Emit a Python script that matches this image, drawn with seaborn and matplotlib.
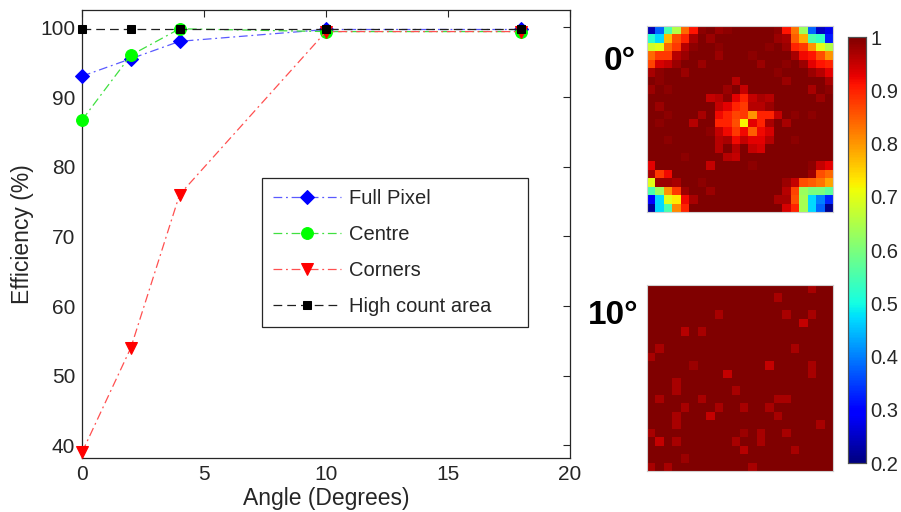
import matplotlib
matplotlib.use("Agg")
import matplotlib.pyplot as plt
import numpy as np
import pandas as pd
import seaborn as sns

# ---------------- data ----------------
angles = [0, 2, 4, 10, 18]
full_pixel = [93.0, 95.5, 98.0, 99.7, 99.7]
centre = [86.7, 96.0, 99.8, 99.4, 99.4]
corners = [39.0, 54.0, 76.0, 99.4, 99.4]
high_count = [99.8, 99.8, 99.8, 99.8, 99.8]
series_names = ["Full Pixel", "Centre", "Corners", "High count area"]

x_ticks = [0, 5, 10, 15, 20]
y_ticks = [40, 50, 60, 70, 80, 90, 100]
cbar_ticks = [0.2, 0.3, 0.4, 0.5, 0.6, 0.7, 0.8, 0.9, 1.0]
cbar_labels = ["0.2", "0.3", "0.4", "0.5", "0.6", "0.7", "0.8", "0.9", "1"]
map_titles = ["0°", "10°"]

eff_0deg = [
    [0.24,0.38,0.55,0.65,0.84,0.91,0.99,1.00,0.98,0.99,1.00,1.00,1.00,1.00,1.00,0.99,0.91,0.83,0.63,0.38,0.25,0.28],
    [0.52,0.47,0.77,0.86,0.90,0.97,1.00,0.98,1.00,1.00,1.00,1.00,1.00,1.00,1.00,0.98,0.97,0.85,0.78,0.55,0.53,0.32],
    [0.68,0.70,0.84,0.88,0.96,0.99,1.00,1.00,0.99,1.00,1.00,1.00,1.00,1.00,0.99,1.00,0.98,0.90,0.88,0.80,0.70,0.65],
    [0.84,0.88,0.88,0.96,0.98,1.00,1.00,1.00,0.98,1.00,1.00,1.00,0.99,1.00,1.00,1.00,1.00,0.97,0.92,0.91,0.86,0.80],
    [0.87,0.94,0.95,0.98,1.00,1.00,0.98,1.00,1.00,1.00,1.00,1.00,1.00,0.98,1.00,1.00,0.99,1.00,0.98,0.93,0.91,0.90],
    [0.97,0.99,1.00,1.00,0.98,1.00,1.00,1.00,1.00,1.00,1.00,1.00,1.00,1.00,1.00,0.99,1.00,1.00,1.00,0.98,0.96,0.93],
    [1.00,0.99,1.00,1.00,1.00,1.00,1.00,1.00,1.00,1.00,0.96,1.00,1.00,1.00,1.00,1.00,0.98,1.00,1.00,1.00,1.00,0.97],
    [0.98,1.00,0.99,1.00,1.00,1.00,1.00,1.00,1.00,0.98,1.00,0.95,1.00,1.00,1.00,1.00,1.00,1.00,1.00,0.97,1.00,0.99],
    [1.00,1.00,1.00,1.00,1.00,1.00,1.00,0.95,0.96,0.99,0.93,0.90,0.95,0.97,0.96,1.00,1.00,1.00,1.00,1.00,0.98,1.00],
    [1.00,0.98,1.00,1.00,1.00,1.00,1.00,1.00,0.95,0.93,0.90,0.88,0.96,0.96,0.98,1.00,1.00,1.00,1.00,1.00,1.00,1.00],
    [1.00,1.00,0.99,1.00,1.00,1.00,0.97,1.00,0.92,0.90,0.87,0.88,0.80,0.90,0.90,0.95,1.00,0.99,1.00,0.99,1.00,1.00],
    [1.00,0.99,1.00,1.00,1.00,0.96,1.00,1.00,0.90,0.90,0.86,0.72,0.93,0.90,0.97,1.00,0.97,1.00,1.00,1.00,1.00,1.00],
    [1.00,1.00,1.00,1.00,1.00,1.00,1.00,0.99,0.95,0.92,0.88,0.92,0.85,0.92,0.94,1.00,1.00,1.00,1.00,1.00,1.00,1.00],
    [1.00,1.00,0.99,1.00,1.00,1.00,1.00,1.00,0.96,0.97,0.92,0.95,0.93,0.93,0.96,1.00,1.00,0.99,1.00,1.00,1.00,1.00],
    [1.00,1.00,1.00,1.00,1.00,1.00,1.00,1.00,0.96,1.00,0.96,1.00,0.95,0.94,1.00,1.00,1.00,1.00,1.00,1.00,1.00,1.00],
    [1.00,1.00,1.00,1.00,0.99,1.00,1.00,1.00,1.00,0.96,0.95,1.00,1.00,1.00,1.00,1.00,1.00,1.00,1.00,1.00,1.00,1.00],
    [0.93,1.00,1.00,1.00,1.00,1.00,1.00,0.95,1.00,1.00,1.00,1.00,0.99,1.00,1.00,1.00,1.00,1.00,1.00,0.99,0.95,0.93],
    [0.97,0.88,0.92,1.00,1.00,1.00,1.00,1.00,1.00,1.00,1.00,1.00,1.00,1.00,1.00,1.00,1.00,1.00,1.00,0.98,0.86,0.84],
    [0.70,0.98,0.98,0.97,1.00,1.00,0.99,1.00,1.00,1.00,1.00,1.00,1.00,1.00,1.00,1.00,0.98,0.95,0.86,0.85,0.83,0.79],
    [0.55,0.63,0.80,0.88,0.98,1.00,1.00,0.98,1.00,1.00,1.00,1.00,1.00,1.00,1.00,1.00,0.96,0.87,0.63,0.60,0.60,0.57],
    [0.30,0.47,0.70,0.73,0.92,0.97,1.00,1.00,1.00,1.00,1.00,1.00,1.00,1.00,1.00,0.97,0.97,0.86,0.64,0.47,0.40,0.33],
    [0.22,0.47,0.55,0.81,0.90,1.00,1.00,1.00,1.00,1.00,1.00,1.00,1.00,1.00,1.00,1.00,0.94,0.90,0.64,0.47,0.38,0.21],
]

eff_10deg = [
    [1,1,1,1,1,1,1,1,1,1,1,1,1,1,1,1,1,1,1,.97,1,1],
    [1,1,1,1,1,1,1,1,1,1,1,1,1,1,1,.97,1,1,1,1,1,1],
    [1,1,1,1,1,1,1,1,1,1,1,1,1,1,1,1,1,1,1,1,1,1],
    [1,1,1,1,1,1,1,1,.97,1,1,1,1,1,1,1,.97,1,1,.97,1,1],
    [1,1,1,1,1,1,1,1,1,1,1,1,1,1,1,1,1,1,.95,1,1,1],
    [1,1,1,1,.96,1,.97,1,1,1,1,1,1,1,1,1,1,1,1,1,1,1],
    [1,1,1,1,1,1,1,1,1,1,1,1,1,1,1,1,1,1,1,1,1,1],
    [1,.97,1,1,1,1,1,1,1,1,1,1,1,1,1,1,1,.97,1,1,1,1],
    [.97,1,1,1,1,1,1,1,1,1,1,1,1,1,1,1,1,1,1,1,1,1],
    [1,1,1,1,1,.98,1,1,1,1,1,1,1,1,.95,1,1,1,1,.97,1,1],
    [1,1,1,1,1,1,1,1,1,.95,1,1,1,1,1,1,1,1,1,.97,1,1],
    [1,1,1,.97,1,1,1,1,1,1,1,1,1,1,1,1,1,1,1,1,1,1],
    [1,1,1,.97,1,1,1,1,1,1,.97,1,1,1,1,1,1,1,1,1,1,1],
    [1,.97,1,1,1,1,.97,1,1,1,1,1,1,1,1,.97,.97,1,1,1,1,1],
    [1,1,1,1,.97,1,1,1,.97,1,1,.97,1,1,.97,1,1,1,1,1,1,1],
    [1,1,1,.97,1,1,1,.95,1,1,1,1,1,1,1,.97,1,1,1,1,1,1],
    [1,1,1,.97,1,1,1,1,1,1,1,1,1,1,1,1,1,1,1,1,.97,1],
    [.97,1,1,1,1,1,1,1,1,1,1,.98,1,.97,1,1,.97,1,1,1,1,1],
    [1,.95,1,.97,1,1,1,1,1,1,.97,1,1,.97,1,1,1,1,1,1,1,1],
    [1,1,1,1,1,1,1,1,1,1,1,.96,1,1,1,1,1,.97,1,1,1,1],
    [1,1,1,1,.98,1,1,1,1,1,1,1,1,1,1,1,1,1,1,1,1,1],
    [.97,1,.97,1,1,1,1,1,1,1,1,1,.97,1,1,1,1,1,1,1,1,1],
]

# ---------------- styling ----------------
sns.set_style("white")
plt.rcParams["font.family"] = ["Liberation Sans", "DejaVu Sans"]
txt = "#262626"

fig = plt.figure(figsize=(9.01, 5.12), dpi=100)
ax = fig.add_axes([0.0910, 0.1055, 0.5416, 0.875])

df = pd.DataFrame({
    "angle": angles * 4,
    "eff": full_pixel + centre + corners + high_count,
    "series": sum([[n] * len(angles) for n in series_names], []),
})

styles = {
    "Full Pixel": dict(line="#5a5aff", mk="#0000ff", marker="D", ms=7, ls=(0, (7, 3, 1.5, 3))),
    "Centre": dict(line="#40e040", mk="#00ff00", marker="o", ms=8.5, ls=(0, (7, 3, 1.5, 3))),
    "Corners": dict(line="#ff5050", mk="#ff0000", marker="v", ms=9, ls=(0, (7, 3, 1.5, 3))),
    "High count area": dict(line="#202020", mk="#000000", marker="s", ms=6, ls=(0, (7, 4))),
}

for name in series_names:
    st = styles[name]
    sub = df[df["series"] == name]
    sns.lineplot(data=sub, x="angle", y="eff", ax=ax, color=st["line"],
                 linestyle=st["ls"], linewidth=0.9, marker=st["marker"],
                 markersize=st["ms"], markerfacecolor=st["mk"],
                 markeredgecolor=st["mk"], label=name,
                 zorder=3 if name != "High count area" else 4)
for ln in ax.lines:
    ln.set_clip_on(False)

ax.set_xlim(0, 20)
ax.set_ylim(38.2, 102.5)
ax.set_xticks(x_ticks)
ax.set_yticks(y_ticks)
ax.set_xticklabels([str(v) for v in x_ticks])
ax.set_yticklabels([str(v) for v in y_ticks])
ax.tick_params(direction="in", length=5, width=0.8, top=True, right=True,
               labelsize=15, colors=txt, pad=5)
for s in ax.spines.values():
    s.set_color(txt)
    s.set_linewidth(0.9)
ax.set_xlabel("Angle (Degrees)", fontsize=16.5, color=txt, labelpad=2)
ax.set_ylabel("Efficiency (%)", fontsize=16.5, color=txt, labelpad=4)

leg = ax.legend(loc="upper left", bbox_to_anchor=(0.369, 0.286, 0.545, 0.339),
                mode="expand", borderaxespad=0, frameon=True, fancybox=False,
                fontsize=14.5, handlelength=3.35, handletextpad=0.4,
                labelspacing=0.85, borderpad=0.55, numpoints=1)
leg.get_frame().set_edgecolor(txt)
leg.get_frame().set_linewidth(0.9)
leg.get_frame().set_alpha(1)
for t in leg.get_texts():
    t.set_color(txt)

# ---------------- heatmaps ----------------
ax_h1 = fig.add_axes([0.7181, 0.5859, 0.2064, 0.3633])
ax_h2 = fig.add_axes([0.7181, 0.0801, 0.2064, 0.3633])
cax = fig.add_axes([0.9412, 0.0957, 0.0200, 0.832])

sns.heatmap(np.array(eff_0deg), ax=ax_h1, cmap="jet", vmin=0.2, vmax=1.0,
            cbar=False, xticklabels=False, yticklabels=False)
sns.heatmap(np.array(eff_10deg), ax=ax_h2, cmap="jet", vmin=0.2, vmax=1.0,
            cbar=True, cbar_ax=cax, xticklabels=False, yticklabels=False)

for a in (ax_h1, ax_h2):
    for s in a.spines.values():
        s.set_visible(True)
        s.set_color("#d0d0d0")
        s.set_linewidth(0.8)

cax.set_yticks(cbar_ticks)
cax.set_yticklabels(cbar_labels)
cax.tick_params(direction="in", length=3, width=0.6, labelsize=14.5,
                colors=txt, right=True, left=False, pad=3)
for s in cax.spines.values():
    s.set_visible(True)
    s.set_color("#505050")
    s.set_linewidth(0.8)

fig.text(636 / 901, 1 - 61 / 512, map_titles[0], ha="right", va="center",
         fontsize=24, fontweight="bold", color="black")
fig.text(638 / 901, 1 - 316 / 512, map_titles[1], ha="right", va="center",
         fontsize=24, fontweight="bold", color="black")

fig.savefig("out.png", dpi=100)
